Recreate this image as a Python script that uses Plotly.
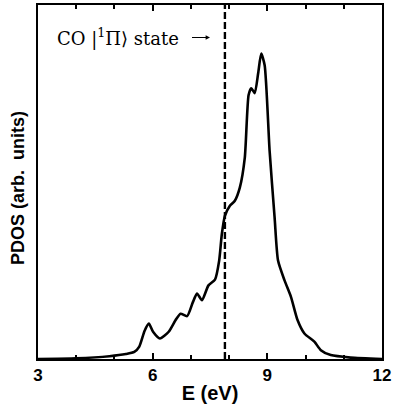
import plotly.graph_objects as go

# Data
energy = [3.0, 4.0, 4.87, 5.3, 5.52, 5.65, 5.79, 5.9, 6.01, 6.19, 6.42, 6.6, 6.73, 6.9,
          7.05, 7.16, 7.29, 7.46, 7.63, 7.74, 7.81, 7.89, 8.02, 8.15, 8.28, 8.41, 8.51,
          8.58, 8.67, 8.76, 8.84, 8.93, 9.06, 9.19, 9.28, 9.45, 9.62, 9.79, 9.97, 10.23,
          10.4, 10.66, 11.18, 12.0]
pdos = [0.0, 0.002, 0.008, 0.014, 0.02, 0.035, 0.08, 0.10, 0.077, 0.058, 0.077, 0.11, 0.128,
        0.121, 0.16, 0.185, 0.166, 0.208, 0.224, 0.278, 0.353, 0.404, 0.433, 0.447, 0.484,
        0.568, 0.746, 0.765, 0.751, 0.807, 0.863, 0.83, 0.587, 0.40, 0.278, 0.222, 0.175,
        0.11, 0.072, 0.049, 0.025, 0.011, 0.004, 0.0]
co_state_energy = 7.89
x_ticks = [3, 6, 9, 12]
x_tick_labels = ["3", "6", "9", "12"]
label_text = "CO |<sup>1</sup>\u03a0\u27e9 state"
label_right = 6.73
arrow_start, arrow_end, arrow_level = 6.99, 7.50, 0.908

fig = go.Figure()
fig.add_trace(go.Scatter(x=energy, y=pdos, mode="lines",
                         line=dict(color="black", width=2.6, shape="spline", smoothing=0.6),
                         hoverinfo="skip", showlegend=False))

fig.add_shape(type="line", xref="x", yref="paper", x0=co_state_energy, x1=co_state_energy,
              y0=0, y1=1, line=dict(color="black", width=2.4, dash="7px,3px"))

fig.add_annotation(x=label_right, y=arrow_level, xref="x", yref="y", text=label_text,
                   showarrow=False, xanchor="right", yanchor="middle",
                   font=dict(family="DejaVu Serif, Liberation Serif, serif", size=18, color="black"))
fig.add_annotation(x=arrow_end, y=arrow_level, ax=arrow_start, ay=arrow_level,
                   xref="x", yref="y", axref="x", ayref="y", text="", showarrow=True,
                   arrowhead=2, arrowsize=0.8, arrowwidth=1.1, arrowcolor="black")
fig.add_annotation(x=-0.056, y=0.482, xref="paper", yref="paper", text="PDOS (arb.  units)",
                   textangle=-90, showarrow=False, xanchor="center", yanchor="middle",
                   font=dict(family="Liberation Sans, Arial, sans-serif", size=18,
                             color="black", weight="bold"))

fig.update_layout(
    width=394, height=413,
    margin=dict(l=38, r=9, t=3, b=54),
    paper_bgcolor="white", plot_bgcolor="white",
    xaxis=dict(range=[3, 12], tickvals=x_ticks, ticktext=x_tick_labels,
               ticks="inside", ticklen=6, tickwidth=1.5, tickcolor="black",
               ticklabeloverflow="allow",
               minor=dict(dtick=1, tick0=3, ticks="inside", ticklen=4, tickwidth=1.5, tickcolor="black"),
               showline=True, linecolor="black", linewidth=2, mirror="ticks",
               showgrid=False, zeroline=False,
               tickfont=dict(family="Liberation Sans, Arial, sans-serif", size=17,
                             color="black", weight="bold"),
               title=dict(text="E (eV)", standoff=2,
                          font=dict(family="Liberation Sans, Arial, sans-serif", size=20,
                                    color="black", weight="bold"))),
    yaxis=dict(range=[0, 1], showticklabels=False, ticks="",
               showline=True, linecolor="black", linewidth=2, mirror=True,
               showgrid=False, zeroline=False),
)

fig.write_html("out.html")
